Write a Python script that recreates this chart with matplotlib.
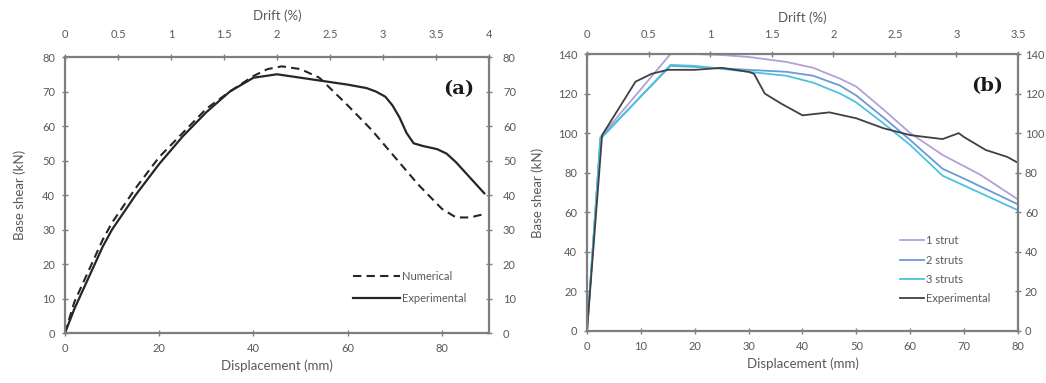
import matplotlib
matplotlib.use("Agg")
import matplotlib.pyplot as plt

# Panel (a)
a_num_x = [0, 2, 5, 8, 10, 15, 20, 25, 30, 35, 40, 43, 46, 50, 54, 57, 60, 65, 70, 75, 80, 83, 86, 89]
a_num_y = [0, 9, 18, 27, 32, 42, 51, 58, 65, 70, 74.5, 76.5, 77.3, 76.5, 74, 70, 66, 59, 51, 43, 36, 33.5, 33.5, 34.5]
a_exp_x = [0, 2, 5, 8, 10, 15, 20, 25, 30, 35, 40, 45, 50, 55, 60, 64, 66, 68, 69.5, 71, 72.5, 74, 76, 79, 81, 83, 85, 87, 89]
a_exp_y = [0, 7, 16, 25, 30, 40, 49, 57, 64, 70, 74, 75, 74, 73, 72, 71, 70, 68.5, 66, 62.5, 58, 55, 54.2, 53.3, 52, 49.5, 46.5, 43.5, 40.5]

# Panel (b)
b1_x = [0, 2.5, 15.5, 20, 25, 30, 37, 42, 47, 50, 55, 60, 66, 73, 80]
b1_y = [0, 98, 140, 140, 139.5, 138.5, 136, 133, 127.5, 123.5, 112, 100, 89, 79, 66.5]
b2_x = [0, 2.5, 15.5, 20, 30, 37, 42, 47, 50, 55, 60, 66, 70, 80]
b2_y = [0, 97.5, 134, 133.5, 132, 131, 129, 124, 119, 108, 96.5, 82, 77, 64]
b3_x = [0, 2.5, 15.5, 20, 30, 37, 42, 47, 50, 55, 60, 66, 70, 80]
b3_y = [0, 97, 134.5, 134, 131, 129, 125.5, 120, 115.5, 105, 94, 78.5, 73.5, 61]
be_x = [0, 2.8, 9, 12, 15, 20, 25, 30, 31, 33, 36, 40, 45, 50, 55, 60, 66, 69, 70, 74, 78, 80]
be_y = [0, 99, 126, 130, 132, 132, 133, 131, 130, 120, 115, 109, 110.5, 107.5, 102.5, 99, 97, 100, 98, 91.5, 88, 85]

a_xticks = [0, 20, 40, 60, 80]
a_yticks = [0, 10, 20, 30, 40, 50, 60, 70, 80]
a_drift = [0, 0.5, 1, 1.5, 2, 2.5, 3, 3.5, 4]
b_xticks = [0, 10, 20, 30, 40, 50, 60, 70, 80]
b_yticks = [0, 20, 40, 60, 80, 100, 120, 140]
b_drift = [0, 0.5, 1, 1.5, 2, 2.5, 3, 3.5]

plt.rcParams['font.family'] = ['Lato', 'DejaVu Sans']
TXT = '#595959'
SP = '#7f7f7f'

fig = plt.figure(figsize=(10.46, 3.83), dpi=100)

def style(ax, xlim, ylim, xticks, yticks, drift, dmax, tpad, toplabpad, ylabpad, rpad):
    ax.set_xlim(*xlim)
    ax.set_ylim(*ylim)
    ax.set_xticks(xticks)
    ax.set_yticks(yticks)
    for s in ax.spines.values():
        s.set_color(SP)
        s.set_linewidth(1.6)
    ax.tick_params(direction='inout', length=4, width=1, color=SP, labelsize=8,
                   labelcolor=TXT, pad=5)
    top = ax.twiny()
    top.set_xlim(0, dmax)
    top.set_xticks(drift)
    top.set_xticklabels([('%g' % d) for d in drift])
    top.tick_params(direction='inout', length=4, width=1, color=SP, labelsize=8,
                    labelcolor=TXT, pad=tpad)
    top.set_xlabel('Drift (%)', fontsize=9.5, color=TXT, labelpad=toplabpad)
    right = ax.twinx()
    right.set_ylim(*ylim)
    right.set_yticks(yticks)
    right.tick_params(direction='inout', length=4, width=1, color=SP, labelsize=8,
                      labelcolor=TXT, pad=rpad)
    for t in (top, right):
        for s in t.spines.values():
            s.set_visible(False)
    ax.set_xlabel('Displacement (mm)', fontsize=9.5, color=TXT, labelpad=4)
    ax.set_ylabel('Base shear (kN)', fontsize=9.5, color=TXT, labelpad=ylabpad)
    return top, right

axa = fig.add_axes([0.0621, 0.1305, 0.4054, 0.7206])
axa.plot(a_num_x, a_num_y, color='#262626', lw=1.5, ls=(0, (4, 2.5)), label='Numerical')
axa.plot(a_exp_x, a_exp_y, color='#262626', lw=1.6, label='Experimental')
style(axa, (0, 90), (0, 80), a_xticks, a_yticks, a_drift, 4, 10, 7, 12, 8)
axa.text(0.965, 0.885, '(a)', transform=axa.transAxes, ha='right', va='center',
         fontsize=14, fontweight='bold', family='DejaVu Serif', color='#1a1a1a')
axa.legend(loc='lower right', bbox_to_anchor=(0.97, 0.07), frameon=False, fontsize=8,
           labelcolor=TXT, handlelength=4.2, handletextpad=0.2, labelspacing=1.0)

axb = fig.add_axes([0.5612, 0.1358, 0.412, 0.7232])
axb.plot(b1_x, b1_y, color='#b4a0d6', lw=1.3, label='1 strut')
axb.plot(b2_x, b2_y, color='#6a9bd8', lw=1.3, label='2 struts')
axb.plot(b3_x, b3_y, color='#4cc3dc', lw=1.3, label='3 struts')
axb.plot(be_x, be_y, color='#404040', lw=1.3, label='Experimental')
style(axb, (0, 80), (0, 140), b_xticks, b_yticks, b_drift, 3.5, 8, 5, 10, 3)
axb.text(0.965, 0.885, '(b)', transform=axb.transAxes, ha='right', va='center',
         fontsize=14, fontweight='bold', family='DejaVu Serif', color='#1a1a1a')
axb.legend(loc='lower right', bbox_to_anchor=(0.96, 0.06), frameon=False, fontsize=8,
           labelcolor=TXT, handlelength=2.2, handletextpad=0.2, labelspacing=0.75)

fig.savefig('out.png', dpi=100)
